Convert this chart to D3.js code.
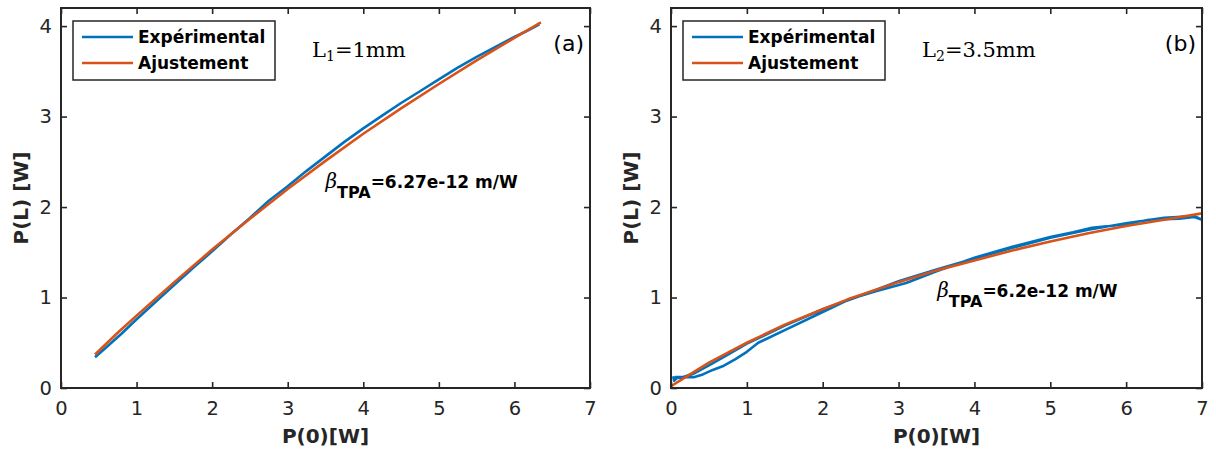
<!DOCTYPE html>
<html>
<head>
<meta charset="utf-8">
<script src="https://cdn.jsdelivr.net/npm/d3@7"></script>
<style>
  html, body { margin: 0; padding: 0; background: #fff; }
  svg { display: block; }
</style>
</head>
<body>
<svg id="chart" width="1216" height="455"></svg>
<script>
// ---------------- data ----------------
const xTicks = [0, 1, 2, 3, 4, 5, 6, 7];
const yTicks = [0, 1, 2, 3, 4];
const xDomain = [0, 7];
const yDomain = [0, 4.2];

const seriesNames = ["Expérimental", "Ajustement"];
const seriesColors = ["#0072BD", "#D95319"];

const xLabel = "P(0)[W]";
const yLabel = "P(L) [W]";

// Panel (a): L1 = 1 mm
const expA = [
  [0.45, 0.34], [0.6, 0.45], [0.8, 0.60], [1.0, 0.76], [1.25, 0.95], [1.5, 1.14],
  [1.75, 1.33], [2.0, 1.51], [2.25, 1.70], [2.5, 1.88], [2.75, 2.07], [3.0, 2.23],
  [3.25, 2.40], [3.5, 2.56], [3.75, 2.72], [4.0, 2.87], [4.25, 3.01], [4.5, 3.15],
  [4.75, 3.28], [5.0, 3.41], [5.25, 3.54], [5.5, 3.66], [5.75, 3.77], [6.0, 3.88],
  [6.15, 3.94], [6.33, 4.02]
];
const fitA = [
  [0.45, 0.37], [0.75, 0.61], [1.0, 0.80], [1.5, 1.17], [2.0, 1.53], [2.5, 1.87],
  [3.0, 2.20], [3.5, 2.51], [4.0, 2.81], [4.5, 3.09], [5.0, 3.36], [5.5, 3.62],
  [6.0, 3.87], [6.35, 4.04]
];

// Panel (b): L2 = 3.5 mm (measurement goes up and back down)
const expB = [
  [0.03, 0.13], [0.04, 0.08], [0.08, 0.11], [0.2, 0.12], [0.3, 0.12], [0.42, 0.15],
  [0.55, 0.20], [0.68, 0.24], [0.85, 0.32], [1.0, 0.40], [1.15, 0.50], [1.5, 0.64],
  [2.0, 0.84], [2.35, 0.98], [2.7, 1.07], [3.1, 1.16], [3.5, 1.29], [4.0, 1.44],
  [4.5, 1.56], [5.0, 1.67], [5.3, 1.72], [5.55, 1.77], [6.0, 1.81], [6.3, 1.86],
  [6.7, 1.87], [6.9, 1.89], [7.0, 1.86],
  [6.9, 1.90], [6.5, 1.88], [6.0, 1.82], [5.5, 1.75], [5.0, 1.66], [4.5, 1.55],
  [4.0, 1.43], [3.5, 1.31], [3.0, 1.18], [2.5, 1.02], [2.0, 0.87], [1.5, 0.69],
  [1.0, 0.49], [0.75, 0.37], [0.5, 0.25], [0.3, 0.16], [0.15, 0.12], [0.05, 0.12]
];
const fitB = [
  [0.0, 0.02], [0.25, 0.15], [0.5, 0.28], [0.75, 0.39], [1.0, 0.50], [1.5, 0.70],
  [2.0, 0.87], [2.33, 0.98], [3.0, 1.17], [3.5, 1.30], [4.0, 1.41], [4.5, 1.52],
  [5.0, 1.62], [5.5, 1.71], [6.0, 1.79], [6.5, 1.86], [7.0, 1.93]
];

const panels = [
  { left: 61, right: 590, exp: expA, fit: fitA, lenMain: "L", lenSub: "1", lenRest: "=1mm",
    tag: "(a)", beta: "=6.27e-12 m/W", betaX: 3.5, betaY: 2.21 },
  { left: 671, right: 1202, exp: expB, fit: fitB, lenMain: "L", lenSub: "2", lenRest: "=3.5mm",
    tag: "(b)", beta: "=6.2e-12 m/W", betaX: 3.51, betaY: 1.01 }
];

// ---------------- drawing ----------------
const svg = d3.select("#chart");
const plotTop = 8, plotBottom = 388;
const axisColor = "#262626";
const sans = "'DejaVu Sans', 'Liberation Sans', sans-serif";
const serif = "'DejaVu Serif', 'Liberation Serif', serif";

panels.forEach(p => {
  const x = d3.scaleLinear().domain(xDomain).range([p.left, p.right]);
  const y = d3.scaleLinear().domain(yDomain).range([plotBottom, plotTop]);
  const g = svg.append("g");

  const line = d3.line().x(d => x(d[0])).y(d => y(d[1]));

  const clipId = "clip" + p.left;
  g.append("clipPath").attr("id", clipId).append("rect")
    .attr("x", p.left).attr("y", plotTop).attr("width", p.right - p.left).attr("height", plotBottom - plotTop);

  const plot = g.append("g").attr("clip-path", `url(#${clipId})`);
  plot.append("path").datum(p.exp).attr("d", line)
    .attr("fill", "none").attr("stroke", seriesColors[0]).attr("stroke-width", 2.6)
    .attr("stroke-linejoin", "round");
  plot.append("path").datum(p.fit).attr("d", line)
    .attr("fill", "none").attr("stroke", seriesColors[1]).attr("stroke-width", 2.6)
    .attr("stroke-linejoin", "round");

  // axes
  const tickLen = 6;
  const styleAxis = sel => {
    sel.select(".domain").remove();
    sel.selectAll(".tick line").attr("stroke", axisColor).attr("stroke-width", 1.6);
    sel.selectAll(".tick text").attr("fill", axisColor)
      .style("font-family", sans).style("font-size", "19.5px");
  };
  g.append("g").attr("transform", `translate(0,${plotBottom})`)
    .call(d3.axisBottom(x).tickValues(xTicks).tickFormat(d3.format("d"))
      .tickSizeInner(-tickLen).tickSizeOuter(0).tickPadding(13))
    .call(styleAxis);
  g.append("g").attr("transform", `translate(0,${plotTop})`)
    .call(d3.axisTop(x).tickValues(xTicks).tickFormat("").tickSizeInner(-tickLen).tickSizeOuter(0))
    .call(styleAxis);
  g.append("g").attr("transform", `translate(${p.left},0)`)
    .call(d3.axisLeft(y).tickValues(yTicks).tickFormat(d3.format("d"))
      .tickSizeInner(-tickLen).tickSizeOuter(0).tickPadding(9))
    .call(styleAxis);
  g.append("g").attr("transform", `translate(${p.right},0)`)
    .call(d3.axisRight(y).tickValues(yTicks).tickFormat("").tickSizeInner(-tickLen).tickSizeOuter(0))
    .call(styleAxis);

  g.append("rect").attr("x", p.left).attr("y", plotTop)
    .attr("width", p.right - p.left).attr("height", plotBottom - plotTop)
    .attr("fill", "none").attr("stroke", axisColor).attr("stroke-width", 2);

  // axis labels
  g.append("text").attr("x", (p.left + p.right) / 2).attr("y", 443)
    .attr("text-anchor", "middle").attr("fill", axisColor)
    .style("font-family", sans).style("font-weight", "bold").style("font-size", "20px")
    .text(xLabel);
  g.append("text")
    .attr("transform", `translate(${p.left - 33},${(plotTop + plotBottom) / 2}) rotate(-90)`)
    .attr("text-anchor", "middle").attr("fill", axisColor)
    .style("font-family", sans).style("font-weight", "bold").style("font-size", "20px")
    .text(yLabel);

  // legend
  const lx = p.left + 12, ly = 21, lw = 202, lh = 59;
  const leg = g.append("g");
  leg.append("rect").attr("x", lx).attr("y", ly).attr("width", lw).attr("height", lh)
    .attr("fill", "#fff").attr("stroke", axisColor).attr("stroke-width", 1.5);
  seriesNames.forEach((name, i) => {
    const ry = ly + 16 + i * 26;
    leg.append("line").attr("x1", lx + 9).attr("x2", lx + 60).attr("y1", ry).attr("y2", ry)
      .attr("stroke", seriesColors[i]).attr("stroke-width", 2.6);
    leg.append("text").attr("x", lx + 65).attr("y", ry + 6).attr("fill", "#000")
      .style("font-family", sans).style("font-weight", "bold").style("font-size", "17px")
      .text(name);
  });

  // length annotation
  const lt = g.append("text").attr("x", p.left + 251).attr("y", 57).attr("fill", "#000")
    .style("font-family", serif).style("font-size", "21px");
  lt.append("tspan").text(p.lenMain);
  lt.append("tspan").attr("dy", 4).style("font-size", "14px").text(p.lenSub);
  lt.append("tspan").attr("dy", -4).text(p.lenRest);

  // panel tag
  g.append("text").attr("x", p.right - 6).attr("y", 51).attr("text-anchor", "end")
    .attr("fill", "#000").style("font-family", sans).style("font-size", "22px").text(p.tag);

  // beta annotation
  const bx = x(p.betaX), by = y(p.betaY);
  const bt = g.append("text").attr("x", bx).attr("y", by).attr("fill", "#000")
    .style("font-family", sans).style("font-size", "18px");
  bt.append("tspan").style("font-family", serif).style("font-style", "italic")
    .style("font-size", "20px").text("β");
  bt.append("tspan").attr("dy", 10).style("font-weight", "bold").style("font-size", "16px").text("TPA");
  bt.append("tspan").attr("dy", -10).style("font-weight", "bold").style("font-size", "17px").text(p.beta);
});
</script>
</body>
</html>
